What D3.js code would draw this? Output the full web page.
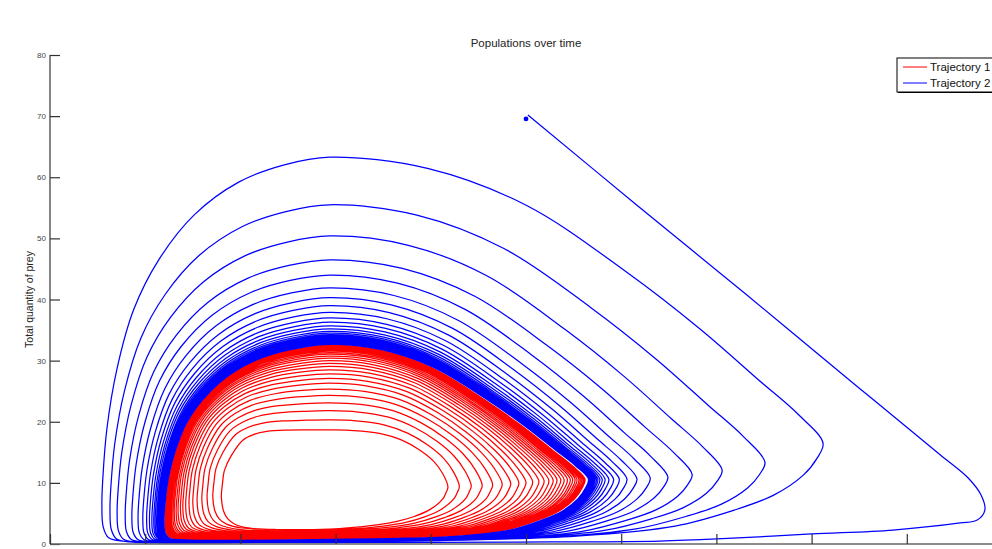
<!DOCTYPE html>
<html>
<head>
<meta charset="utf-8">
<script src="https://cdn.jsdelivr.net/npm/d3@7"></script>
<style>
  html, body { margin: 0; padding: 0; background: #fff; overflow: hidden; }
  svg { display: block; font-family: "Liberation Sans", Arial, sans-serif; }
</style>
</head>
<body>
<svg id="chart" width="992" height="549"></svg>
<script>
// ---- axis ticks and labels ----
const xTicks = [0, 2, 4, 6, 8, 10, 12, 14, 16, 18];
const yTicks = [0, 10, 20, 30, 40, 50, 60, 70, 80];
const seriesNames = ["Trajectory 1", "Trajectory 2"];
const seriesColors = ["#ff0000", "#0000ff"];

// predator level at which every orbit reaches its prey peak
const peakX = 5.88;

// ---- Trajectory 2 (outer spiral) ----
const blueInitial = [10.0, 69.55];
const blueLeadIn = [[10.04, 70.2], [12.35, 55.3], [14.66, 40.6], [16.97, 25.7], [18.7, 14.6],
  [19.29, 10.8], [19.56, 8.0], [19.64, 5.56], [19.48, 3.93], [19.12, 3.44], [17.71, 2.29],
  [16.0, 1.64], [14.01, 0.82], [12.8, 0.49], [10.5, 0.33], [8.0, 0.25]];
const blueTop = [63.3, 55.5, 50.4, 46.5, 44.0, 41.9, 40.3, 39.0, 37.9, 37.0, 36.3, 35.7,
  35.2, 34.8, 34.5, 34.25, 34.05, 33.87, 33.72, 33.58, 33.46, 33.35, 33.25, 33.16, 33.08,
  33.01, 32.95, 32.89, 32.84, 32.8, 32.76, 32.72, 32.69, 32.66];
const blueLeft = [1.09, 1.26, 1.41, 1.58, 1.72, 1.85, 1.95, 2.03, 2.09, 2.14, 2.18, 2.21,
  2.24, 2.26, 2.28, 2.295, 2.31, 2.32, 2.33, 2.34, 2.347, 2.354, 2.36, 2.365, 2.37, 2.374,
  2.378, 2.381, 2.384, 2.387, 2.389, 2.391, 2.393, 2.395];
const blueTipX = [16.24, 15.02, 14.12, 13.49, 12.98, 12.61, 12.33, 12.12, 11.96, 11.84, 11.74,
  11.66, 11.6, 11.55, 11.51, 11.48, 11.45, 11.43, 11.41, 11.39, 11.38, 11.37, 11.36, 11.35,
  11.345, 11.34, 11.335, 11.33, 11.325, 11.32, 11.318, 11.316, 11.314, 11.312];
const blueTipY = [16.5, 13.4, 12.1, 11.4, 11.0, 10.8, 10.7, 10.65, 10.6, 10.6, 10.6, 10.6,
  10.6, 10.6, 10.6, 10.6, 10.6, 10.6, 10.6, 10.6, 10.6, 10.6, 10.6, 10.6, 10.6, 10.6, 10.6,
  10.6, 10.6, 10.6, 10.6, 10.6, 10.6, 10.6];
const blueBottom = [0.15, 0.17, 0.19, 0.21, 0.23, 0.25, 0.27, 0.29, 0.31, 0.33, 0.35, 0.37,
  0.39, 0.41, 0.43, 0.45, 0.46, 0.47, 0.48, 0.49, 0.5, 0.51, 0.52, 0.53, 0.54, 0.55, 0.56,
  0.57, 0.58, 0.59, 0.6, 0.6, 0.6, 0.6];

// ---- Trajectory 1 (inner spiral) ----
const redTop = [18.66, 20.3, 21.8, 23.1, 24.3, 25.35, 26.3, 27.1, 27.85, 28.5, 29.05, 29.55,
  30.0, 30.4, 30.75, 31.05, 31.3, 31.55, 31.75, 31.92, 32.06, 32.18, 32.28, 32.36, 32.42,
  32.47, 32.51, 32.54];
const redLeft = [3.6, 3.42, 3.3, 3.19, 3.09, 3.0, 2.92, 2.85, 2.79, 2.74, 2.69, 2.65, 2.61,
  2.58, 2.55, 2.53, 2.51, 2.49, 2.475, 2.46, 2.45, 2.44, 2.435, 2.43, 2.425, 2.42, 2.418, 2.415];
const redTipX = [8.36, 8.6, 8.85, 9.08, 9.3, 9.5, 9.68, 9.85, 10.0, 10.14, 10.27, 10.38, 10.48,
  10.57, 10.65, 10.73, 10.8, 10.87, 10.93, 10.98, 11.03, 11.07, 11.11, 11.14, 11.17, 11.2,
  11.22, 11.24];
const redTipY = [9.3, 9.4, 9.5, 9.6, 9.7, 9.8, 9.9, 10.0, 10.1, 10.2, 10.3, 10.35, 10.4, 10.45,
  10.5, 10.52, 10.54, 10.56, 10.58, 10.6, 10.6, 10.6, 10.6, 10.6, 10.6, 10.6, 10.6, 10.6];
const redBottom = [2.3, 2.1, 1.95, 1.8, 1.68, 1.57, 1.47, 1.38, 1.3, 1.23, 1.16, 1.1, 1.04,
  0.99, 0.95, 0.91, 0.88, 0.85, 0.82, 0.8, 0.78, 0.76, 0.75, 0.74, 0.73, 0.72, 0.71, 0.7];

// ---- orbit outline templates (fractions of each orbit's extent) ----
// ascent: u from left edge to peakX, v from floor to the coming peak
const riseWide = [[0.5, 0.0], [0.25, 0.0], [0.1, 0.003], [0.03, 0.012], [0.006, 0.04], [0, 0.1],
  [0.004, 0.165], [0.022, 0.295], [0.066, 0.45], [0.14, 0.605], [0.25, 0.734], [0.405, 0.85],
  [0.6, 0.935], [0.8, 0.98]];
const riseRound = [[0.5, 0.005], [0.25, 0.02], [0.12, 0.06], [0.06, 0.11], [0.02, 0.19], [0, 0.33],
  [0.01, 0.46], [0.027, 0.59], [0.09, 0.74], [0.2, 0.9], [0.3, 0.955], [0.42, 0.985],
  [0.6, 0.998], [0.8, 1.0]];
// descent: u from peakX to the tip, v from the peak down to the tip
const fallWide = [[0.2, 0.04], [0.4, 0.17], [0.6, 0.4], [0.75, 0.6], [0.87, 0.78], [0.95, 0.9]];
const fallRound = [[0.2, 0.01], [0.42, 0.06], [0.6, 0.17], [0.76, 0.35], [0.88, 0.55], [0.96, 0.78]];
// return: s from the tip back to peakX, f from floor up to the tip
const backWide = [[0.012, 0.85], [0.04, 0.68], [0.1, 0.48], [0.18, 0.33], [0.3, 0.17], [0.5, 0.07], [0.75, 0.03], [1.0, 0.015]];
const backRound = [[0.015, 0.88], [0.04, 0.74], [0.15, 0.48], [0.28, 0.32], [0.43, 0.2], [0.6, 0.12], [0.8, 0.06], [1.0, 0.02]];

const svg = d3.select("#chart");
const x = d3.scaleLinear().domain([0, 20]).range([50, 1002]);
const y = d3.scaleLinear().domain([0, 80]).range([544, 55]);

function mix(a, b, w) {
  return a.map((p, i) => [p[0] + (b[i][0] - p[0]) * w, p[1] + (b[i][1] - p[1]) * w]);
}

// chain the orbits of one trajectory into a single list of points
function buildSpiral(t) {
  const pts = t.leadIn ? t.leadIn.slice() : [];
  let floor = t.leadIn ? t.leadIn[t.leadIn.length - 1][1] : t.bottom[0];
  for (let i = 0; i < t.top.length; i++) {
    const w = t.round ? Math.max(0, Math.min(1, (32.5 - t.top[i]) / (32.5 - 18.66))) : 0;
    const rise = mix(riseWide, riseRound, w);
    const fall = mix(fallWide, fallRound, w);
    const back = mix(backWide, backRound, w);
    const xl = t.left[i], yt = t.top[i], tx = t.tipX[i], ty = t.tipY[i], yb = t.bottom[i];
    rise.forEach(([u, v]) => pts.push([xl + u * (peakX - xl), floor + v * (yt - floor)]));
    pts.push([peakX, yt]);
    fall.forEach(([u, v]) => pts.push([peakX + u * (tx - peakX), yt - v * (yt - ty)]));
    pts.push([tx, ty]);
    back.forEach(([s, f]) => pts.push([tx - s * (tx - peakX), yb + f * (ty - yb)]));
    floor = yb;
  }
  return pts;
}

const trajectories = [
  { name: seriesNames[0], color: seriesColors[0], round: true,
    top: redTop, left: redLeft, tipX: redTipX, tipY: redTipY, bottom: redBottom },
  { name: seriesNames[1], color: seriesColors[1], round: false, leadIn: blueLeadIn,
    top: blueTop, left: blueLeft, tipX: blueTipX, tipY: blueTipY, bottom: blueBottom }
];

const line = d3.line().x(d => x(d[0])).y(d => y(d[1])).curve(d3.curveCatmullRom.alpha(0.5));

const plot = svg.append("g");
trajectories.forEach(t => {
  plot.append("path")
    .attr("d", line(buildSpiral(t)))
    .attr("fill", "none")
    .attr("stroke", t.color)
    .attr("stroke-width", 1.25)
    .attr("stroke-linejoin", "round");
});

// initial state marker of trajectory 2
plot.append("circle")
  .attr("cx", x(blueInitial[0])).attr("cy", y(blueInitial[1]))
  .attr("r", 2.4).attr("fill", seriesColors[1]);

// ---- axes ----
const axisColor = "#666";
const yAxis = svg.append("g").attr("transform", `translate(${x(0)},0)`)
  .call(d3.axisLeft(y).tickValues(yTicks).tickSize(-10).tickPadding(4).tickFormat(d3.format("d")));
const xAxis = svg.append("g").attr("transform", `translate(0,${y(0)})`)
  .call(d3.axisBottom(x).tickValues(xTicks).tickSize(-10).tickPadding(6).tickFormat(d3.format("d")));
[yAxis, xAxis].forEach(g => {
  g.select(".domain").attr("stroke", axisColor).attr("stroke-width", 1.6);
  g.selectAll(".tick line").attr("stroke", "#333").attr("stroke-width", 1.2);
  g.selectAll(".tick text").attr("fill", "#444").attr("font-size", 8)
    .attr("font-family", "Liberation Sans, Arial, sans-serif");
});
yAxis.select(".domain").attr("d", `M0,${y(80)}V${y(0)}`);
xAxis.select(".domain").attr("d", `M${x(0)},0H${x(20)}`);

svg.append("text")
  .attr("transform", `translate(33,${(y(0) + y(80)) / 2}) rotate(-90)`)
  .attr("text-anchor", "middle")
  .attr("font-size", 10.5).attr("fill", "#222")
  .text("Total quantity of prey");

svg.append("text")
  .attr("x", 526).attr("y", 47)
  .attr("text-anchor", "middle")
  .attr("font-size", 11.5).attr("fill", "#222")
  .text("Populations over time");

// ---- legend ----
const legend = svg.append("g").attr("transform", "translate(897,58)");
legend.append("rect").attr("x", 1).attr("y", 1).attr("width", 120).attr("height", 34)
  .attr("fill", "#000");
legend.append("rect").attr("x", 0).attr("y", 0).attr("width", 120).attr("height", 34)
  .attr("fill", "#fff").attr("stroke", "#000").attr("stroke-width", 1);
trajectories.forEach((t, i) => {
  const ly = 9 + i * 16;
  legend.append("line").attr("x1", 6).attr("x2", 30).attr("y1", ly).attr("y2", ly)
    .attr("stroke", t.color).attr("stroke-width", 1);
  legend.append("text").attr("x", 33).attr("y", ly + 4)
    .attr("font-size", 11.5).attr("fill", "#111").text(t.name);
});
</script>
</body>
</html>
